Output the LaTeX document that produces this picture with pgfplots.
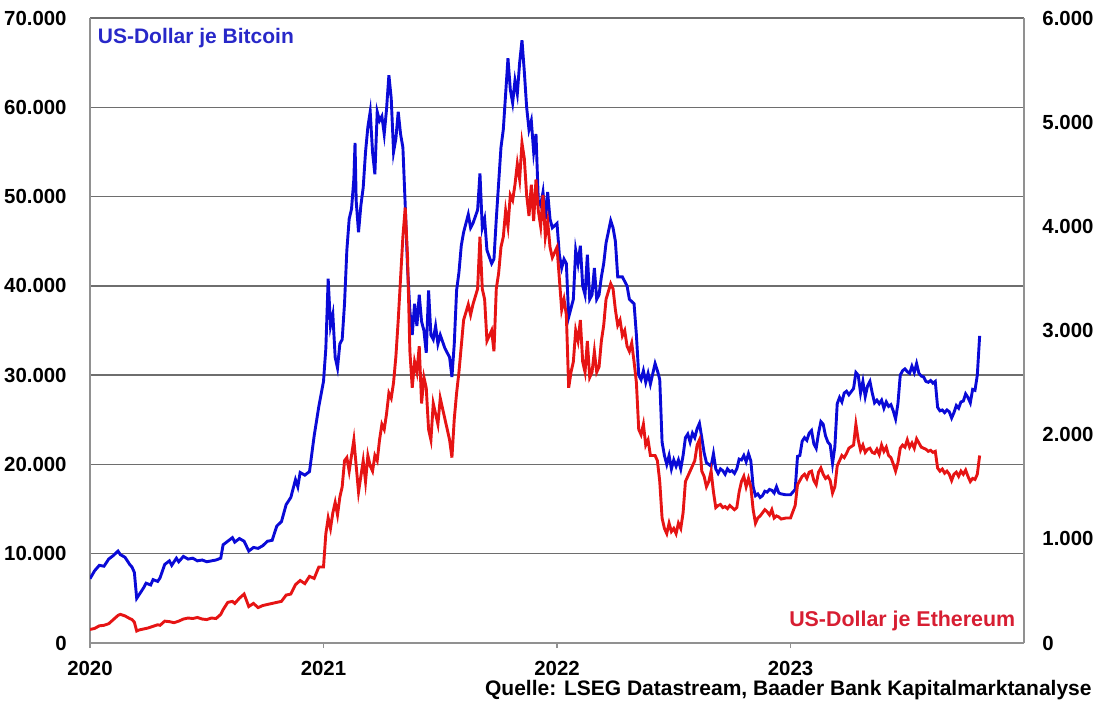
\documentclass[border=0pt]{standalone}
\usepackage{pgfplots}
\pgfplotsset{compat=1.18}
\usepackage{fontspec}
\setmainfont{Liberation Sans}
\definecolor{btc}{RGB}{10,10,215}
\definecolor{eth}{RGB}{230,20,20}
\definecolor{gridc}{RGB}{110,110,110}
\definecolor{framec}{RGB}{145,145,145}
\definecolor{btclab}{RGB}{40,40,200}
\definecolor{ethlab}{RGB}{215,30,50}
\begin{document}
\begin{tikzpicture}
\path[use as bounding box] (0,0) rectangle (548pt,351.5pt);
\pgfplotsset{
  common/.style={
    scale only axis, width=467pt, height=312.5pt,
    at={(45pt,30pt)}, anchor=south west,
    xmin=2020, xmax=2024,
    every tick label/.append style={font=\bfseries\fontsize{10.2}{12}\selectfont, inner sep=0pt},
  }
}
\begin{axis}[common,
  ymin=0, ymax=70000,
  ytick={0,10000,20000,30000,40000,50000,60000,70000},
  yticklabels={0,10.000,20.000,30.000,40.000,50.000,60.000,70.000},
  xtick={2020,2021,2022,2023},
  xticklabels={2020,2021,2022,2023},
  ymajorgrids, grid style={gridc, line width=0.7pt},
  axis line style={framec, line width=0.8pt},
  ytick style={draw=none},
  xtick style={framec, line width=0.8pt},
  tick align=outside, major tick length=2.5pt,
  yticklabel style={anchor=east, xshift=-9pt},
  xticklabel style={anchor=north, yshift=-6.5pt},
  axis y line*=left,
  axis x line*=bottom,
]
\addplot[btc, line width=1.45pt] coordinates {
(2020.00,7200)(2020.02,8100)(2020.04,8700)(2020.06,8600)(2020.08,9400)(2020.10,9800)(2020.12,10300)(2020.13,9900)(2020.15,9600)(2020.17,8800)(2020.18,8500)(2020.19,7900)(2020.20,5000)(2020.21,5400)(2020.23,6200)(2020.24,6700)(2020.26,6500)(2020.27,7100)(2020.29,6900)(2020.30,7300)(2020.32,8800)(2020.34,9200)(2020.35,8700)(2020.37,9500)(2020.38,9100)(2020.40,9700)(2020.42,9400)(2020.44,9500)(2020.46,9200)(2020.48,9300)(2020.50,9100)(2020.52,9200)(2020.54,9300)(2020.56,9500)(2020.57,11000)(2020.59,11400)(2020.61,11800)(2020.62,11300)(2020.64,11700)(2020.66,11400)(2020.68,10300)(2020.70,10700)(2020.72,10600)(2020.74,10900)(2020.76,11400)(2020.78,11500)(2020.80,13100)(2020.82,13600)(2020.84,15500)(2020.86,16300)(2020.88,18300)(2020.89,17500)(2020.90,19100)(2020.92,18800)(2020.94,19200)(2020.96,23200)(2020.98,26500)
(2021.00,29300)(2021.01,33000)(2021.02,40800)(2021.03,35500)(2021.04,36800)(2021.05,32000)(2021.06,30800)(2021.07,33500)(2021.08,34000)(2021.09,38000)(2021.10,44000)(2021.11,47500)(2021.12,48600)(2021.13,52000)(2021.135,56000)(2021.14,49500)(2021.15,46000)(2021.16,49000)(2021.17,51000)(2021.18,55000)(2021.19,57800)(2021.20,59500)(2021.21,55000)(2021.22,52500)(2021.23,59500)(2021.24,58500)(2021.25,59000)(2021.26,57000)(2021.27,59800)(2021.28,63600)(2021.29,61000)(2021.30,55000)(2021.31,56500)(2021.32,59500)(2021.33,57000)(2021.34,55500)(2021.35,49000)(2021.36,42000)(2021.37,37200)(2021.38,34500)(2021.39,38000)(2021.40,35500)(2021.41,39000)(2021.42,36000)(2021.43,35000)(2021.44,32500)(2021.45,39500)(2021.46,34500)(2021.47,34000)(2021.48,35500)(2021.49,33500)(2021.50,34500)(2021.52,33000)(2021.54,32000)(2021.55,29800)(2021.56,33500)(2021.57,39500)(2021.58,41500)(2021.59,44500)(2021.60,46000)(2021.62,48000)(2021.63,46500)(2021.64,47000)(2021.66,48500)(2021.67,52600)(2021.68,46500)(2021.69,47500)(2021.70,44000)(2021.72,42500)(2021.73,43000)(2021.74,47500)(2021.75,51500)(2021.76,55500)(2021.77,57500)(2021.78,61500)(2021.79,65500)(2021.80,62000)(2021.81,60500)(2021.82,63000)(2021.83,61500)(2021.84,65000)(2021.85,67500)(2021.86,64000)(2021.87,60000)(2021.88,57500)(2021.89,58500)(2021.90,55000)(2021.91,57000)(2021.92,49500)(2021.93,49000)(2021.94,50500)(2021.95,47500)(2021.96,50500)(2021.97,47500)(2021.98,46500)
(2022.00,47000)(2022.01,43500)(2022.02,42000)(2022.03,43000)(2022.04,42500)(2022.05,36500)(2022.06,37500)(2022.07,38500)(2022.08,44000)(2022.09,42500)(2022.10,44500)(2022.11,40000)(2022.12,39000)(2022.13,43500)(2022.14,38500)(2022.15,39000)(2022.16,42000)(2022.17,38500)(2022.18,39000)(2022.19,41000)(2022.20,42500)(2022.21,44800)(2022.23,47300)(2022.24,46500)(2022.25,45000)(2022.26,41000)(2022.28,41000)(2022.30,40000)(2022.31,38500)(2022.33,38000)(2022.34,34500)(2022.35,30000)(2022.36,29500)(2022.37,30500)(2022.38,29200)(2022.39,30200)(2022.40,29000)(2022.42,31300)(2022.43,30500)(2022.44,29500)(2022.45,22500)(2022.46,21000)(2022.47,20000)(2022.48,21000)(2022.49,19500)(2022.50,20500)(2022.51,19800)(2022.52,20500)(2022.53,19500)(2022.54,21000)(2022.55,23000)(2022.56,23400)(2022.57,22500)(2022.58,23500)(2022.59,23000)(2022.60,24000)(2022.61,24600)(2022.62,23000)(2022.63,21300)(2022.64,20200)(2022.65,20000)(2022.66,19800)(2022.67,21200)(2022.68,19500)(2022.69,19000)(2022.70,19500)(2022.71,19300)(2022.72,18900)(2022.73,19500)(2022.74,19200)(2022.75,19300)(2022.76,19000)(2022.77,19500)(2022.78,20600)(2022.79,20500)(2022.80,21000)(2022.81,20300)(2022.82,21200)(2022.83,20400)(2022.84,17500)(2022.85,16500)(2022.86,16700)(2022.87,16300)(2022.88,16500)(2022.89,17000)(2022.90,16900)(2022.91,17200)(2022.92,17100)(2022.93,16800)(2022.94,17500)(2022.95,16800)(2022.96,16700)(2022.98,16600)
(2023.00,16600)(2023.01,16900)(2023.02,17200)(2023.03,20900)(2023.04,21000)(2023.05,22600)(2023.06,23000)(2023.07,22700)(2023.08,23500)(2023.09,23800)(2023.10,22300)(2023.11,21800)(2023.12,23500)(2023.13,24800)(2023.14,24500)(2023.15,23200)(2023.16,22500)(2023.17,22200)(2023.18,20100)(2023.19,22000)(2023.20,26800)(2023.21,27500)(2023.22,27000)(2023.23,28000)(2023.24,28200)(2023.25,27800)(2023.27,28500)(2023.28,30300)(2023.29,30000)(2023.30,28000)(2023.31,29300)(2023.32,27600)(2023.33,28800)(2023.34,29300)(2023.35,28000)(2023.36,26900)(2023.37,27200)(2023.38,26800)(2023.39,27200)(2023.40,26300)(2023.41,27000)(2023.42,26500)(2023.43,26700)(2023.44,26000)(2023.45,25100)(2023.46,26800)(2023.47,30000)(2023.48,30500)(2023.49,30700)(2023.50,30400)(2023.51,30200)(2023.52,31000)(2023.53,30300)(2023.54,31300)(2023.55,30200)(2023.56,29900)(2023.57,29800)(2023.58,29300)(2023.59,29200)(2023.60,29400)(2023.61,29100)(2023.62,29300)(2023.63,26400)(2023.64,26000)(2023.65,26100)(2023.66,25800)(2023.67,26100)(2023.68,25900)(2023.69,25200)(2023.70,25800)(2023.71,26600)(2023.72,26300)(2023.73,27000)(2023.74,27100)(2023.75,27900)(2023.76,27500)(2023.77,26900)(2023.78,28400)(2023.79,28300)(2023.80,30000)(2023.81,34400)
};
\node[anchor=west, text=btclab, font=\bfseries\fontsize{10.5}{12}\selectfont, inner sep=0pt] at (rel axis cs:0.008,0.968) {US-Dollar je Bitcoin};
\end{axis}
\begin{axis}[common,
  ymin=0, ymax=6000,
  ytick={0,1000,2000,3000,4000,5000,6000},
  yticklabels={0,1.000,2.000,3.000,4.000,5.000,6.000},
  axis y line*=right,
  axis x line=none,
  axis line style={framec, line width=0.8pt},
  ytick style={draw=none},
  yticklabel style={anchor=west, xshift=9pt},
]
\addplot[eth, line width=1.45pt] coordinates {
(2020.00,130)(2020.02,140)(2020.04,165)(2020.06,170)(2020.08,185)(2020.10,225)(2020.12,265)(2020.13,275)(2020.15,260)(2020.17,235)(2020.18,225)(2020.19,200)(2020.20,115)(2020.21,125)(2020.23,135)(2020.25,145)(2020.27,160)(2020.29,175)(2020.30,170)(2020.32,210)(2020.34,205)(2020.36,195)(2020.38,210)(2020.40,230)(2020.42,240)(2020.44,235)(2020.46,245)(2020.48,230)(2020.50,225)(2020.52,240)(2020.54,235)(2020.56,275)(2020.57,320)(2020.59,390)(2020.61,400)(2020.62,380)(2020.64,430)(2020.66,470)(2020.68,350)(2020.70,380)(2020.72,340)(2020.74,360)(2020.76,370)(2020.78,380)(2020.80,390)(2020.82,400)(2020.84,460)(2020.86,470)(2020.88,560)(2020.89,580)(2020.90,600)(2020.92,570)(2020.94,640)(2020.96,620)(2020.98,730)
(2021.00,730)(2021.01,1050)(2021.02,1200)(2021.03,1100)(2021.04,1250)(2021.05,1350)(2021.06,1230)(2021.07,1400)(2021.08,1500)(2021.09,1750)(2021.10,1780)(2021.11,1650)(2021.12,1800)(2021.13,1950)(2021.14,1700)(2021.15,1450)(2021.16,1600)(2021.17,1750)(2021.18,1550)(2021.19,1800)(2021.20,1700)(2021.21,1650)(2021.22,1800)(2021.23,1750)(2021.24,1950)(2021.25,2100)(2021.26,2050)(2021.27,2200)(2021.28,2400)(2021.29,2350)(2021.30,2500)(2021.31,2750)(2021.32,3100)(2021.33,3500)(2021.34,3900)(2021.35,4180)(2021.36,3700)(2021.37,2800)(2021.38,2450)(2021.39,2700)(2021.40,2600)(2021.41,2850)(2021.42,2300)(2021.43,2550)(2021.44,2450)(2021.45,2050)(2021.46,1950)(2021.47,2300)(2021.48,2200)(2021.49,2100)(2021.50,2350)(2021.52,2150)(2021.54,1950)(2021.55,1780)(2021.56,2150)(2021.57,2400)(2021.58,2600)(2021.59,2850)(2021.60,3100)(2021.62,3250)(2021.63,3150)(2021.64,3250)(2021.66,3400)(2021.67,3900)(2021.68,3400)(2021.69,3300)(2021.70,2900)(2021.72,3000)(2021.73,2800)(2021.74,3400)(2021.75,3550)(2021.76,3800)(2021.77,3900)(2021.78,4150)(2021.79,4000)(2021.80,4300)(2021.81,4250)(2021.82,4400)(2021.83,4600)(2021.84,4450)(2021.85,4800)(2021.86,4650)(2021.87,4300)(2021.88,4100)(2021.89,4400)(2021.90,4050)(2021.91,4450)(2021.92,4150)(2021.93,4000)(2021.94,4300)(2021.95,3900)(2021.96,4050)(2021.97,3800)(2021.98,3700)
(2022.00,3800)(2022.01,3500)(2022.02,3200)(2022.03,3300)(2022.04,3150)(2022.05,2450)(2022.06,2600)(2022.07,2700)(2022.08,3000)(2022.09,2900)(2022.10,3100)(2022.11,2700)(2022.12,2600)(2022.13,2900)(2022.14,2550)(2022.15,2600)(2022.16,2800)(2022.17,2600)(2022.18,2650)(2022.19,2900)(2022.20,3050)(2022.21,3300)(2022.23,3450)(2022.24,3400)(2022.25,3200)(2022.26,3050)(2022.27,3100)(2022.28,2950)(2022.29,3000)(2022.30,2850)(2022.31,2800)(2022.32,2880)(2022.33,2700)(2022.34,2500)(2022.35,2050)(2022.36,2000)(2022.37,2100)(2022.38,1900)(2022.39,1950)(2022.40,1800)(2022.42,1800)(2022.43,1750)(2022.44,1550)(2022.45,1200)(2022.46,1100)(2022.47,1050)(2022.48,1150)(2022.49,1070)(2022.50,1100)(2022.51,1050)(2022.52,1150)(2022.53,1100)(2022.54,1250)(2022.55,1550)(2022.56,1600)(2022.57,1650)(2022.58,1700)(2022.59,1750)(2022.60,1900)(2022.61,1950)(2022.62,1650)(2022.63,1600)(2022.64,1500)(2022.65,1550)(2022.66,1650)(2022.67,1450)(2022.68,1300)(2022.69,1320)(2022.70,1330)(2022.71,1300)(2022.72,1310)(2022.73,1290)(2022.74,1320)(2022.75,1300)(2022.76,1280)(2022.77,1300)(2022.78,1450)(2022.79,1550)(2022.80,1600)(2022.81,1500)(2022.82,1580)(2022.83,1500)(2022.84,1280)(2022.85,1150)(2022.86,1200)(2022.87,1220)(2022.88,1250)(2022.89,1280)(2022.90,1260)(2022.91,1230)(2022.92,1280)(2022.93,1200)(2022.94,1220)(2022.95,1210)(2022.96,1190)(2022.98,1200)
(2023.00,1200)(2023.01,1260)(2023.02,1320)(2023.03,1520)(2023.04,1560)(2023.05,1600)(2023.06,1620)(2023.07,1580)(2023.08,1640)(2023.09,1650)(2023.10,1560)(2023.11,1520)(2023.12,1640)(2023.13,1680)(2023.14,1620)(2023.15,1580)(2023.16,1600)(2023.17,1560)(2023.18,1440)(2023.19,1500)(2023.20,1700)(2023.21,1750)(2023.22,1800)(2023.23,1780)(2023.24,1820)(2023.25,1870)(2023.27,1900)(2023.28,2100)(2023.29,1950)(2023.30,1850)(2023.31,1900)(2023.32,1830)(2023.33,1860)(2023.34,1870)(2023.35,1830)(2023.36,1820)(2023.37,1860)(2023.38,1810)(2023.39,1900)(2023.40,1840)(2023.41,1880)(2023.42,1800)(2023.43,1780)(2023.44,1720)(2023.45,1650)(2023.46,1730)(2023.47,1870)(2023.48,1900)(2023.49,1880)(2023.50,1950)(2023.51,1880)(2023.52,1920)(2023.53,1870)(2023.54,1960)(2023.55,1920)(2023.56,1880)(2023.57,1870)(2023.58,1860)(2023.59,1840)(2023.60,1850)(2023.61,1830)(2023.62,1840)(2023.63,1680)(2023.64,1650)(2023.65,1670)(2023.66,1630)(2023.67,1650)(2023.68,1620)(2023.69,1560)(2023.70,1620)(2023.71,1640)(2023.72,1600)(2023.73,1650)(2023.74,1620)(2023.75,1660)(2023.76,1600)(2023.77,1550)(2023.78,1580)(2023.79,1570)(2023.80,1620)(2023.81,1800)
};
\node[anchor=east, text=ethlab, font=\bfseries\fontsize{10.7}{12}\selectfont, inner sep=0pt] at (rel axis cs:0.991,0.035) {US-Dollar je Ethereum};
\end{axis}
\node[anchor=east, font=\bfseries\fontsize{10.5}{12}\selectfont, inner sep=0pt] at (546pt,6.5pt) {Quelle: LSEG Datastream, Baader Bank Kapitalmarktanalyse};
\end{tikzpicture}
\end{document}
